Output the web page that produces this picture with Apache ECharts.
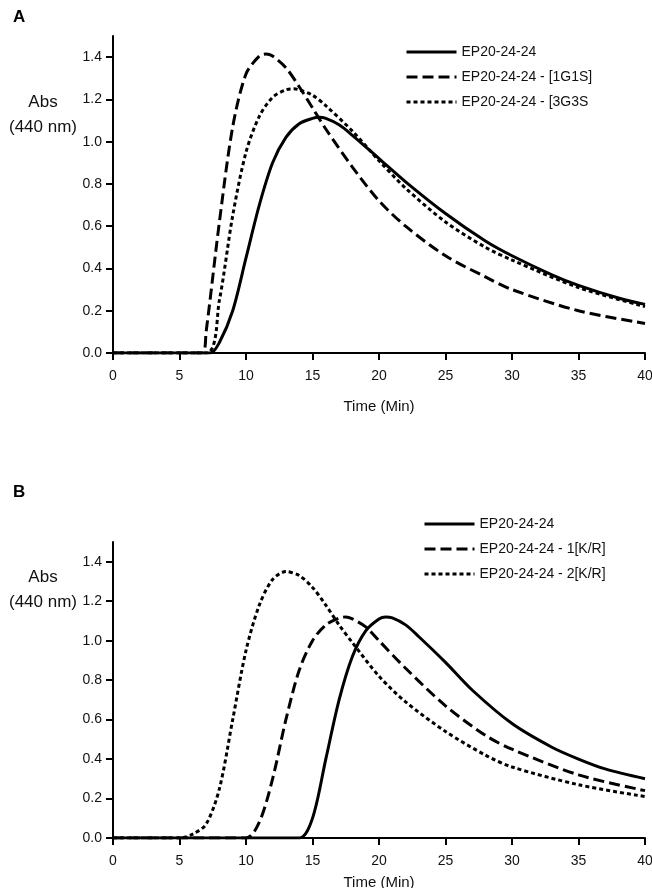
<!DOCTYPE html>
<html>
<head>
<meta charset="utf-8">
<script src="https://cdn.jsdelivr.net/npm/echarts@6/dist/echarts.min.js"></script>
<style>
html,body{margin:0;padding:0;background:#fff;}
#c{width:652px;height:888px;}
</style>
</head>
<body>
<div id="c"></div>
<script>
// Panel A data (time in min, absorbance at 440 nm)
const timeA_solid = [0, 7.3, 8, 9, 10, 11, 12, 13, 14, 15, 15.5, 16, 17, 18, 20, 22, 25, 28, 30, 33, 35, 38, 40];
const absA_solid  = [0, 0, 0.05, 0.2, 0.45, 0.7, 0.9, 1.02, 1.085, 1.11, 1.115, 1.11, 1.08, 1.03, 0.92, 0.81, 0.66, 0.53, 0.46, 0.37, 0.32, 0.26, 0.23];
const timeA_1G1S = [0, 6.7, 7, 8, 9, 10, 11, 11.5, 12, 13, 14, 15, 16, 18, 20, 22, 25, 28, 30, 35, 40];
const absA_1G1S  = [0, 0, 0.1, 0.62, 1.07, 1.32, 1.405, 1.415, 1.405, 1.35, 1.26, 1.16, 1.06, 0.88, 0.72, 0.6, 0.46, 0.36, 0.3, 0.2, 0.14];
const timeA_3G3S = [0, 7, 8, 9, 10, 11, 12, 13, 13.6, 14, 15, 16, 18, 20, 22, 25, 28, 30, 35, 40];
const absA_3G3S  = [0, 0, 0.25, 0.65, 0.95, 1.12, 1.21, 1.245, 1.25, 1.245, 1.22, 1.17, 1.05, 0.91, 0.78, 0.62, 0.5, 0.44, 0.31, 0.22];

// Panel B data
const timeB_solid = [0, 14, 15, 16, 17, 18, 19, 20, 20.5, 21, 22, 23, 25, 27, 30, 33, 35, 37, 40];
const absB_solid  = [0, 0, 0.1, 0.4, 0.7, 0.92, 1.05, 1.11, 1.12, 1.115, 1.08, 1.02, 0.89, 0.75, 0.58, 0.46, 0.4, 0.35, 0.3];
const timeB_1KR = [0, 10, 11, 12, 13, 14, 15, 16, 17, 17.5, 18, 19, 20, 22, 25, 28, 30, 35, 40];
const absB_1KR  = [0, 0, 0.08, 0.3, 0.6, 0.85, 1.0, 1.08, 1.115, 1.12, 1.11, 1.07, 1.0, 0.86, 0.67, 0.52, 0.45, 0.32, 0.24];
const timeB_2KR = [0, 5, 6, 7, 8, 9, 10, 11, 12, 13, 14, 15, 16, 17, 18, 20, 22, 25, 28, 30, 35, 40];
const absB_2KR  = [0, 0, 0.02, 0.07, 0.25, 0.6, 0.95, 1.18, 1.31, 1.35, 1.33, 1.27, 1.18, 1.08, 0.99, 0.82, 0.69, 0.54, 0.42, 0.36, 0.27, 0.21];

const namesA = ['EP20-24-24', 'EP20-24-24 - [1G1S]', 'EP20-24-24 - [3G3S'];
const namesB = ['EP20-24-24 ', 'EP20-24-24 - 1[K/R]', 'EP20-24-24 - 2[K/R]'];
const xTicks = [0, 5, 10, 15, 20, 25, 30, 35, 40];
const yTicks = [0, 0.2, 0.4, 0.6, 0.8, 1.0, 1.2, 1.4];

const FONT = '"Liberation Sans", Arial, sans-serif';
const pair = (xs, ys) => xs.map((x, i) => [x, ys[i]]);

function xAxis(gi, gap) {
  return {
    type: 'value', gridIndex: gi, min: 0, max: 40, interval: 5,
    name: 'Time (Min)', nameLocation: 'middle', nameGap: gap,
    nameTextStyle: {fontFamily: FONT, fontSize: 15, color: '#111'},
    axisLine: {show: true, onZero: false, lineStyle: {color: '#000', width: 2}},
    axisTick: {show: true, inside: false, length: 7, lineStyle: {color: '#000', width: 2}, customValues: xTicks},
    axisLabel: {fontFamily: FONT, fontSize: 14, color: '#111', margin: 16, customValues: xTicks},
    splitLine: {show: false}
  };
}
function yAxis(gi) {
  return {
    type: 'value', gridIndex: gi, min: 0, max: 1.5,
    axisLine: {show: true, lineStyle: {color: '#000', width: 2}},
    axisTick: {show: true, inside: false, length: 7, lineStyle: {color: '#000', width: 2}, customValues: yTicks},
    axisLabel: {fontFamily: FONT, fontSize: 14, color: '#111', margin: 11, customValues: yTicks,
      formatter: v => v.toFixed(1)},
    splitLine: {show: false}
  };
}
function line(name, xs, ys, gi, dash) {
  return {
    type: 'line', name, xAxisIndex: gi, yAxisIndex: gi,
    data: pair(xs, ys), smooth: 0.3, symbol: 'none', showSymbol: false,
    lineStyle: {color: '#000', width: 3, type: dash},
    itemStyle: {color: '#000'},
    emphasis: {disabled: true}, animation: false, z: 1
  };
}
const legendCommon = {
  orient: 'vertical', itemWidth: 50, itemHeight: 14, itemGap: 11,
  itemStyle: {opacity: 0},
  lineStyle: {width: 3},
  textStyle: {fontFamily: FONT, fontSize: 14, color: '#111'},
  selectedMode: false
};

const chart = echarts.init(document.getElementById('c'), null, {renderer: 'canvas'});
chart.setOption({
  animation: false,
  backgroundColor: '#fff',
  grid: [
    {left: 113, right: 7, top: 36, height: 317, outerBoundsMode: 'none', containLabel: false},
    {left: 113, right: 7, top: 542, height: 296, outerBoundsMode: 'none', containLabel: false}
  ],
  xAxis: [xAxis(0, 46), xAxis(1, 37)],
  yAxis: [yAxis(0), yAxis(1)],
  legend: [
    Object.assign({data: namesA, left: 400, top: 40}, legendCommon),
    Object.assign({data: namesB, left: 418, top: 512}, legendCommon)
  ],
  graphic: [
    {type: 'text', left: 13, top: 9, style: {text: 'A', font: 'bold 17px ' + FONT, fill: '#000'}},
    {type: 'text', left: 13, top: 484, style: {text: 'B', font: 'bold 17px ' + FONT, fill: '#000'}},
    {type: 'text', x: 43, y: 102, style: {text: 'Abs', font: '17px ' + FONT, fill: '#111', align: 'center', verticalAlign: 'middle'}},
    {type: 'text', x: 43, y: 127, style: {text: '(440 nm)', font: '17px ' + FONT, fill: '#111', align: 'center', verticalAlign: 'middle'}},
    {type: 'text', x: 43, y: 577, style: {text: 'Abs', font: '17px ' + FONT, fill: '#111', align: 'center', verticalAlign: 'middle'}},
    {type: 'text', x: 43, y: 602, style: {text: '(440 nm)', font: '17px ' + FONT, fill: '#111', align: 'center', verticalAlign: 'middle'}}
  ],
  series: [
    line(namesA[0], timeA_solid, absA_solid, 0, 'solid'),
    line(namesA[1], timeA_1G1S, absA_1G1S, 0, [11, 5]),
    line(namesA[2], timeA_3G3S, absA_3G3S, 0, [4, 3]),
    line(namesB[0], timeB_solid, absB_solid, 1, 'solid'),
    line(namesB[1], timeB_1KR, absB_1KR, 1, [11, 5]),
    line(namesB[2], timeB_2KR, absB_2KR, 1, [4, 3])
  ]
});
</script>
</body>
</html>
